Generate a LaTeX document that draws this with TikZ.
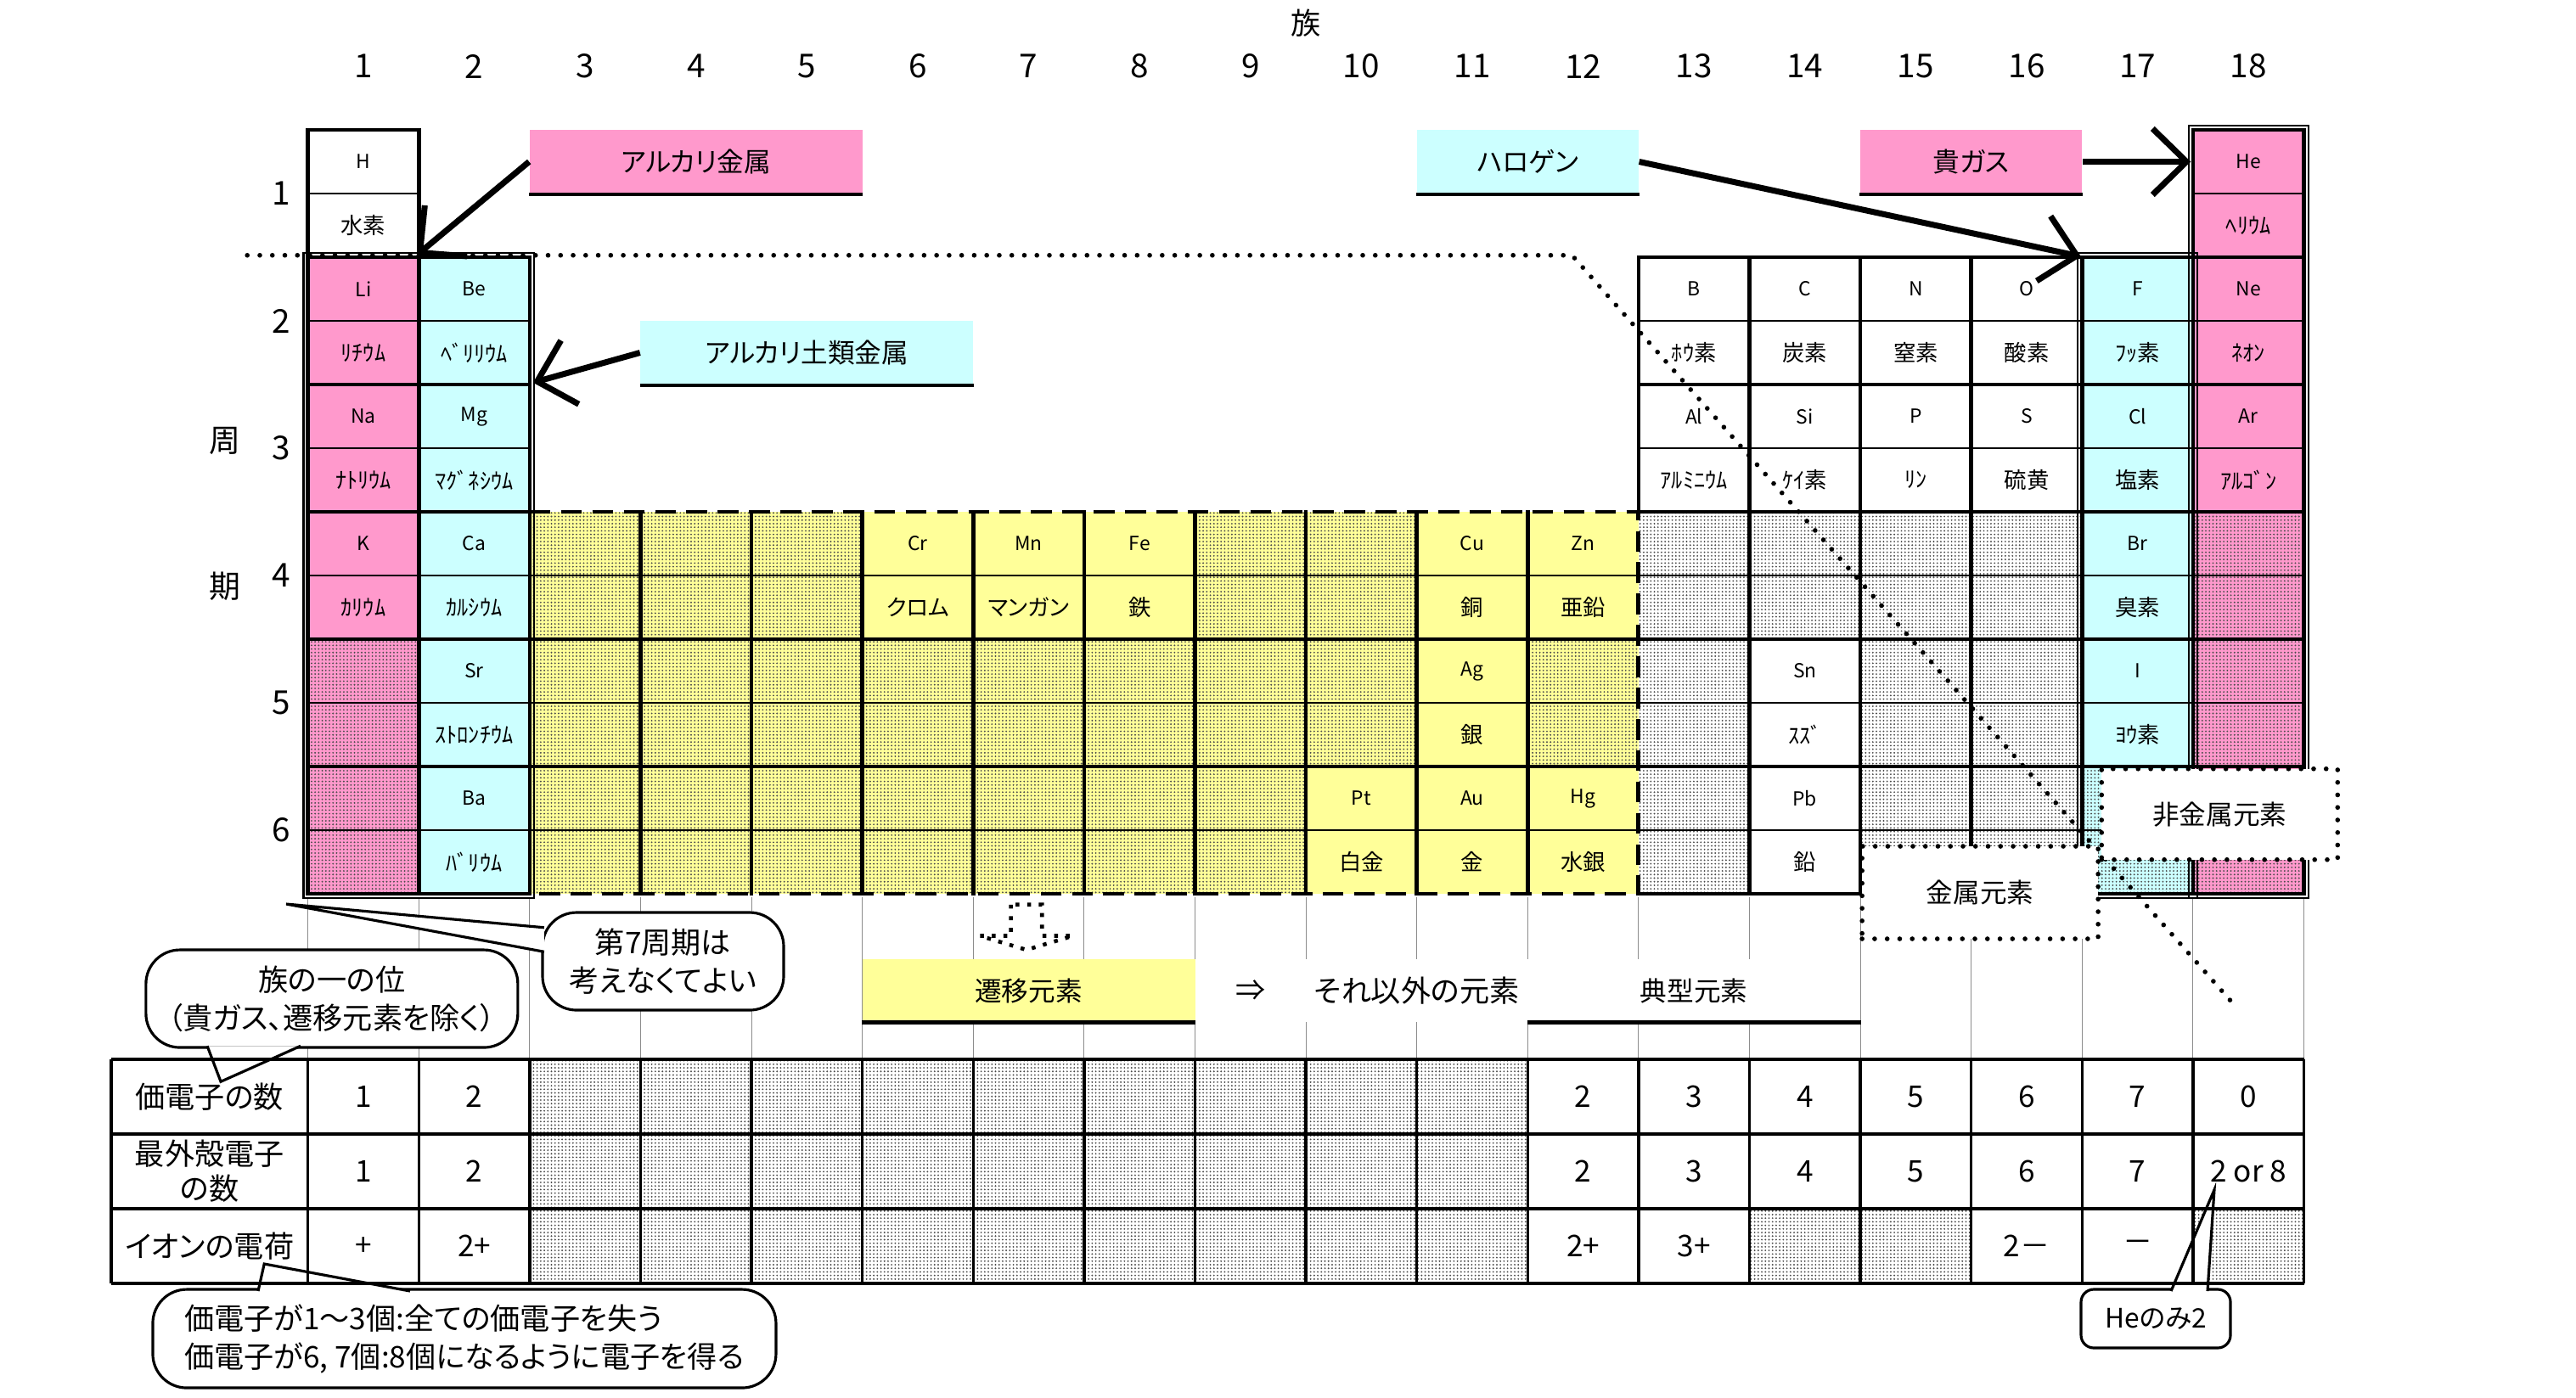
\documentclass[tikz,border=0pt]{standalone}
\usepackage{fontspec}
\setmainfont{Noto Sans CJK JP}[RawFeature=+palt]
\usetikzlibrary{arrows.meta,patterns.meta}
\definecolor{akapink}{HTML}{FF99CC}
\definecolor{mizuiro}{HTML}{CCFFFF}
\definecolor{kiiro}{HTML}{FFFF99}
\tikzset{
  dotfill/.style={pattern={Dots[distance=1.2pt,radius=0.3pt]},pattern color=black!70},
  waku/.style={line width=1.3pt,line cap=rect},
  naka/.style={line width=0.8pt},
  keisen/.style={line width=0.3pt,black!45},
  genso/.style={font=\fontsize{6.5}{7}\selectfont},
  genmei/.style={font=\fontsize{7.5}{8}\selectfont},
  kumi/.style={font=\fontsize{11}{12}\selectfont},
  nafuda/.style={minimum height=0.75cm,inner sep=0pt,font=\fontsize{9}{10}\selectfont},
  sen/.style={line width=2pt,-{Straight Barb[length=4mm,width=7.8mm]}},
  tenten/.style={line width=1.6pt,dash pattern=on 0pt off 4.2pt,line cap=round},
  fukidashi/.style={draw,fill=white,rounded corners=0.4cm,line width=0.9pt,inner sep=0pt,
    align=center,font=\fontsize{10}{12.8}\selectfont},
  hyo/.style={font=\fontsize{10}{11.7}\selectfont}
}
\begin{document}
\begin{tikzpicture}[x=1.306cm,y=-0.75cm]
\useasboundingbox (-2.777,-2.04) rectangle (20.454,19.907);

% fills
\fill[akapink] (0,2) rectangle (1,12);
\fill[mizuiro] (1,2) rectangle (2,12);
\fill[kiiro] (2,6) rectangle (12,12);
\fill[mizuiro] (16,2) rectangle (17,12);
\fill[akapink] (17,0) rectangle (18,12);
\foreach \r/\cols in {4/{3,4,5,9,10,13,14,15,16,18},5/{1,3,4,5,6,7,8,9,10,12,13,15,16,18},6/{1,3,4,5,6,7,8,9,13,15,16,17,18}}
  \foreach \c in \cols
    \path[dotfill] (\c-1,2*\r-2) rectangle (\c,2*\r);

% thin grid under the table
\foreach \x in {0,1,2,3,4,5,14,15,16,17,18}
  \draw[keisen] (\x,12.05) -- (\x,14.6);
\foreach \x in {6,...,13}
{
  \draw[keisen] (\x,12.05) -- (\x,13.03);
  \draw[keisen] (\x,14.01) -- (\x,14.6);
}

% cell lines
\foreach \y/\a/\b in {0/0/1,0/17/18,2/0/2,2/12/18,4/0/2,4/12/18,6/0/2,6/12/18,8/0/18,10/0/18,12/0/2,12/12/18}
  \draw[waku] (\a,\y) -- (\b,\y);
\foreach \y/\a/\b in {1/0/1,1/17/18,3/0/2,3/12/18,5/0/2,5/12/18,7/0/18,9/0/18,11/0/18}
  \draw[naka] (\a,\y) -- (\b,\y);
\foreach \x/\a/\b in {0/0/12,1/0/12,2/2/12,3/6/12,4/6/12,5/6/12,6/6/12,7/6/12,8/6/12,9/6/12,10/6/12,11/6/12,12/2/6,13/2/12,14/2/12,15/2/12,16/2/12,17/0/12,18/0/12}
  \draw[waku] (\x,\a) -- (\x,\b);
\draw[line width=1.4pt,dash pattern=on 7pt off 3.5pt] (2,6) -- (12,6) -- (12,12) -- (2,12);
\draw[line width=0.6pt] (-0.04,1.93) rectangle (2.04,12.07);
\draw[line width=0.6pt] (15.96,1.93) rectangle (17.04,12.07);
\draw[line width=0.6pt] (16.96,-0.07) rectangle (18.04,12.07);

% elements
\foreach \c/\r/\s/\n in {1/1/H/水素,18/1/He/ﾍﾘｳﾑ,1/2/Li/ﾘﾁｳﾑ,2/2/Be/ﾍﾞﾘﾘｳﾑ,13/2/B/ﾎｳ素,14/2/C/炭素,15/2/N/窒素,16/2/O/酸素,17/2/F/ﾌｯ素,18/2/Ne/ﾈｵﾝ,
  1/3/Na/ﾅﾄﾘｳﾑ,2/3/Mg/ﾏｸﾞﾈｼｳﾑ,13/3/Al/ｱﾙﾐﾆｳﾑ,14/3/Si/ｹｲ素,15/3/P/ﾘﾝ,16/3/S/硫黄,17/3/Cl/塩素,18/3/Ar/ｱﾙｺﾞﾝ,
  1/4/K/ｶﾘｳﾑ,2/4/Ca/ｶﾙｼｳﾑ,6/4/Cr/クロム,7/4/Mn/マンガン,8/4/Fe/鉄,11/4/Cu/銅,12/4/Zn/亜鉛,17/4/Br/臭素,
  2/5/Sr/ｽﾄﾛﾝﾁｳﾑ,11/5/Ag/銀,14/5/Sn/ｽｽﾞ,17/5/I/ﾖｳ素,
  2/6/Ba/ﾊﾞﾘｳﾑ,10/6/Pt/白金,11/6/Au/金,12/6/Hg/水銀,14/6/Pb/鉛}
{
  \node[genso] (\s) at (\c-0.5,2*\r-1.5) {\s};
  \node[genmei] (\s-mei) at (\c-0.5,2*\r-0.5) {\n};
}

% metal / nonmetal border
\coordinate (kyokaiL) at (-0.547,1.97);
\coordinate (kyokaiK) at (11.40,1.97);
\coordinate (kyokaiE) at (17.405,13.81);
\draw[tenten] (kyokaiL) -- (kyokaiK) -- (kyokaiE);
\node[draw,tenten,fill=white,minimum width=2.78cm,minimum height=1.07cm,inner sep=0pt,font=\fontsize{9}{10}\selectfont] (hikinzoku) at (17.24,10.75) {非金属元素};
\node[draw,tenten,fill=white,minimum width=2.78cm,minimum height=1.09cm,inner sep=0pt,font=\fontsize{9}{10}\selectfont] (kinzoku) at (15.08,11.98) {金属元素};

% group names
\node[nafuda,fill=akapink,minimum width=3.918cm] (alkali) at (3.5,0.5) {アルカリ金属};
\draw[line width=1.2pt] (alkali.south west) -- (alkali.south east);
\node[nafuda,fill=mizuiro,minimum width=3.918cm] (dorui) at (4.5,3.5) {アルカリ土類金属};
\draw[line width=1.2pt] (dorui.south west) -- (dorui.south east);
\node[nafuda,fill=mizuiro,minimum width=2.612cm] (halogen) at (11,0.5) {ハロゲン};
\draw[line width=1.2pt] (halogen.south west) -- (halogen.south east);
\node[nafuda,fill=akapink,minimum width=2.612cm] (kigasu) at (15,0.5) {貴ガス};
\draw[line width=1.2pt] (kigasu.south west) -- (kigasu.south east);
\coordinate (alkaliTip) at (0.98,1.97);
\coordinate (doruiTip) at (2.03,3.97);
\coordinate (halogenTip) at (15.99,1.99);
\coordinate (kigasuTip) at (16.98,0.5);
\draw[sen] (alkali.west) -- (alkaliTip);
\draw[sen] (dorui.west) -- (doruiTip);
\draw[sen] (halogen.east) -- (halogenTip);
\draw[sen] (kigasu.east) -- (kigasuTip);

% axes
\foreach \g in {1,...,18}
  \node[kumi] (g\g) at (\g-0.5,-1.0) {\g};
\foreach \p in {1,...,6}
  \node[kumi] (p\p) at (-0.24,2*\p-1) {\p};
\node[font=\fontsize{10.5}{11}\selectfont] (shu) at (-0.75,4.88) {周};
\node[font=\fontsize{10.5}{11}\selectfont] (ki) at (-0.75,7.17) {期};
\node[font=\fontsize{10}{11}\selectfont] (zokumei) at (9.0,-1.68) {族};

% transition / typical
\draw[line width=1.3pt,dash pattern=on 1.3pt off 2.6pt] (6.34,12.17) -- (6.34,12.66) -- (6.06,12.66) -- (6.48,12.88)
  -- (6.90,12.66) -- (6.62,12.66) -- (6.62,12.17) -- cycle;
\node[nafuda,fill=kiiro,minimum width=3.918cm,minimum height=0.735cm] (seni) at (6.5,13.52) {遷移元素};
\draw[line width=1.2pt] (seni.south west) -- (seni.south east);
\node[hyo] (yaji) at (8.5,13.52) {⇒};
\node[hyo] (sonota) at (10,13.52) {それ以外の元素};
\node[nafuda,minimum width=3.918cm,minimum height=0.735cm] (tenkei) at (12.5,13.52) {典型元素};
\draw[line width=1.2pt] (tenkei.south west) -- (tenkei.south east);

% lower table
\foreach \c in {3,...,11}
  \path[dotfill] (\c-1,14.6) rectangle (\c,18.12);
\foreach \c in {14,15,18}
  \path[dotfill] (\c-1,16.95) rectangle (\c,18.12);

% callouts
\node[fukidashi,minimum width=2.84cm,minimum height=1.15cm] (dai7) at (3.203,13.06) {第7周期は\\考えなくてよい};
\coordinate (dai7tip) at (-0.196,12.16);
\draw[line width=0.9pt,fill=white] (2.13,12.53) -- (dai7tip) -- (2.13,12.91);
\node[fukidashi,minimum width=4.38cm,minimum height=1.15cm] (zoku) at (0.216,13.647) {族の一の位\\（貴ガス、遷移元素を除く）};
\coordinate (zokutip) at (-0.786,14.95);
\draw[line width=0.9pt,fill=white] (-0.908,14.39) -- (zokutip) -- (-0.066,14.39);
\node[fukidashi,align=left,minimum width=7.34cm,minimum height=1.16cm] (kaden) at (1.411,18.987) {価電子が1～3個:全ての価電子を失う\\価電子が6, 7個:8個になるように電子を得る};
\coordinate (kadentip) at (-0.394,17.813);
\draw[line width=0.9pt,fill=white] (-0.449,18.24) -- (kadentip) -- (0.921,18.24);
\node[fukidashi,rounded corners=0.15cm,minimum width=1.76cm,minimum height=0.69cm,font=\fontsize{9}{10}\selectfont] (heonly) at (16.664,18.673) {Heのみ2};
\coordinate (hetip) at (17.192,16.648);
\draw[line width=0.9pt,fill=white] (16.802,18.24) -- (hetip) -- (17.131,18.24);

\foreach \y in {14.6,15.77,16.95,18.12}
  \draw[line width=1.1pt] (-1.774,\y) -- (18,\y);
\foreach \x in {-1.774,0,1,2,...,18}
  \draw[line width=1pt] (\x,14.6) -- (\x,18.12);
\node[hyo] (kadensu) at (-0.887,15.185) {価電子の数};
\node[hyo,align=center] (saigai) at (-0.887,16.36) {最外殻電子\\の数};
\node[hyo] (ionden) at (-0.887,17.535) {イオンの電荷};
\foreach \c/\v in {1/1,2/2,12/2,13/3,14/4,15/5,16/6,17/7,18/0}
  \node[hyo] (va\c) at (\c-0.5,15.185) {\v};
\foreach \c/\v in {1/1,2/2,12/2,13/3,14/4,15/5,16/6,17/7,18/2 or 8}
  \node[hyo] (vb\c) at (\c-0.5,16.36) {\v};
\foreach \c/\v in {1/+,2/2+,12/2+,13/3+,16/2－,17/－}
  \node[hyo] (vc\c) at (\c-0.5,17.535) {\v};
\end{tikzpicture}
\end{document}
